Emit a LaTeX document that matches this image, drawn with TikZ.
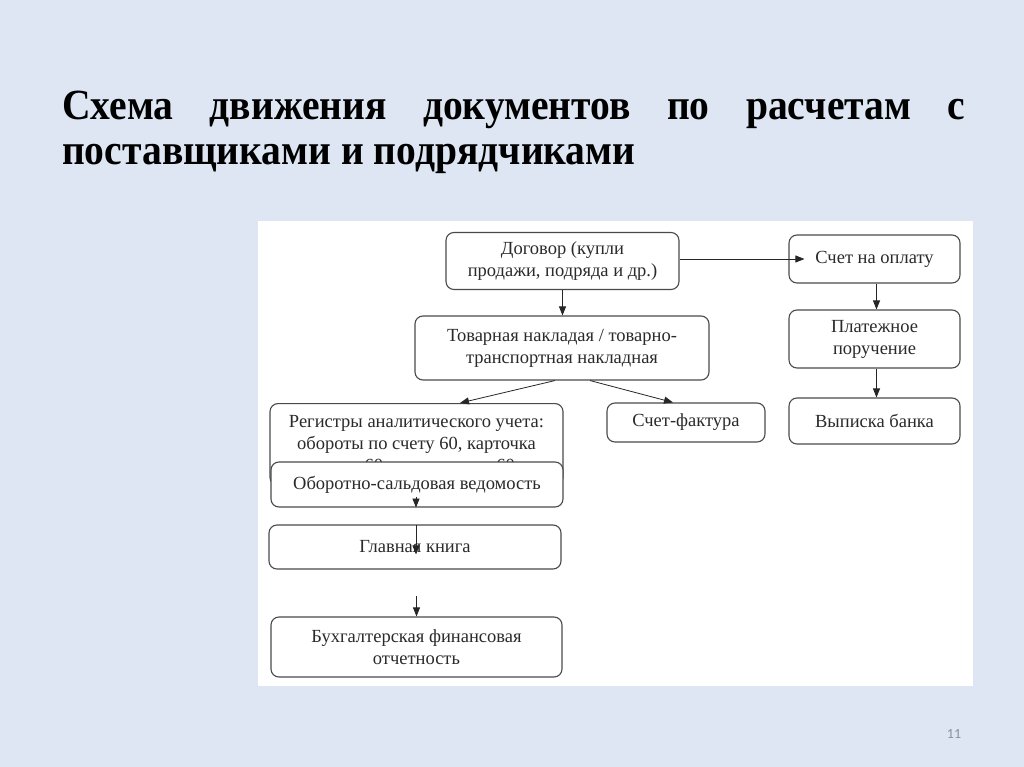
\documentclass[tikz,border=0pt]{standalone}
\usepackage{fontspec}
\setmainfont{Liberation Serif}
\newfontfamily\slidenum{Carlito}
\newfontface\titlefont[FakeStretch=0.92]{Liberation Serif Bold}
\usetikzlibrary{arrows.meta}
\definecolor{slidebg}{HTML}{DDE6F2}
\definecolor{boxline}{HTML}{4A4A4A}
\definecolor{txt}{HTML}{2A2A2A}
\definecolor{numcol}{HTML}{8A919C}
\tikzset{
  box/.style={draw=boxline, line width=1.1pt, rounded corners=8pt, fill=white,
    align=center, inner sep=2pt, text=txt,
    font=\fontsize{18.5}{22}\selectfont},
  arr/.style={draw=black!85, line width=0.8pt, -{Triangle[length=9pt,width=7pt]}},
  titletext/.style={anchor=base west, inner sep=0pt, font=\titlefont\fontsize{43}{46}\selectfont}
}
\begin{document}
\begin{tikzpicture}[x=1pt,y=-1pt]
\useasboundingbox (0,0) rectangle (1024,767);
\fill[slidebg] (0,0) rectangle (1024,767);
% title
\node[titletext] (t1) at (62,120) {\makebox[903pt][s]{Схема движения документов по расчетам с}};
\node[titletext] (t2) at (62,165) {поставщиками и подрядчиками};
% white picture area
\fill[white] (258,221) rectangle (973,686);
% boxes
\node[box, minimum width=233pt, minimum height=57pt] (dog) at (562.5,261) {Договор (купли\\продажи, подряда и др.)};
\node[box, minimum width=171pt, minimum height=48pt] (schet) at (874.5,259) {Счет на оплату};
\node[box, minimum width=294pt, minimum height=64pt] (tov) at (562,348) {Товарная накладая / товарно-\\транспортная накладная};
\node[box, minimum width=171pt, minimum height=58pt] (plat) at (874.5,339) {Платежное\\поручение};
\node[box, minimum width=293pt, minimum height=82pt, anchor=north] (reg) at (416.5,403) {Регистры аналитического учета:\\обороты по счету 60, карточка\\счета 60, анализ счета 60};
\node[box, minimum width=158pt, minimum height=39pt] (sf) at (686,422.5) {Счет-фактура};
\node[box, minimum width=171pt, minimum height=46pt] (vyp) at (874.5,421) {Выписка банка};
\node[box, minimum width=292pt, minimum height=45pt] (osv) at (417,484.5) {Оборотно-сальдовая ведомость};
\node[box, minimum width=292pt, minimum height=44pt] (gk) at (415,547) {Главная книга};
\node[box, minimum width=291pt, minimum height=60pt] (buh) at (416.5,647) {Бухгалтерская финансовая\\отчетность};
% connectors
\draw[arr] (dog.south) -- (dog.south |- tov.north);
\draw[arr, shorten >=-16pt] ([yshift=2pt]dog.east) -- ([yshift=2pt]dog.east -| schet.west);
\draw[arr] ([xshift=2pt]schet.south) -- ([xshift=2pt]schet.south |- plat.north);
\draw[arr] ([xshift=2pt]plat.south) -- ([xshift=2pt]plat.south |- vyp.north);
\draw[arr] ([xshift=-7pt]tov.south) -- ([xshift=43.5pt]reg.north);
\draw[arr] ([xshift=28pt]tov.south) -- ([xshift=-13pt]sf.north);
\coordinate (o1) at ([xshift=-1pt,yshift=11pt]osv.south);
\draw[arr] (o1) -- ([xshift=-1pt]osv.south);
\coordinate (g1) at ([xshift=1pt,yshift=-30pt]gk.north);
\draw[arr] ([xshift=1pt,yshift=-1pt]gk.north) -- (g1);
\coordinate (b1) at ([yshift=20pt]buh.north);
\draw[arr] (b1) -- (buh.north);
% slide number
\node[text=numcol, font=\slidenum\fontsize{14}{16}\selectfont] (num) at (954,734) {11};
\end{tikzpicture}
\end{document}
